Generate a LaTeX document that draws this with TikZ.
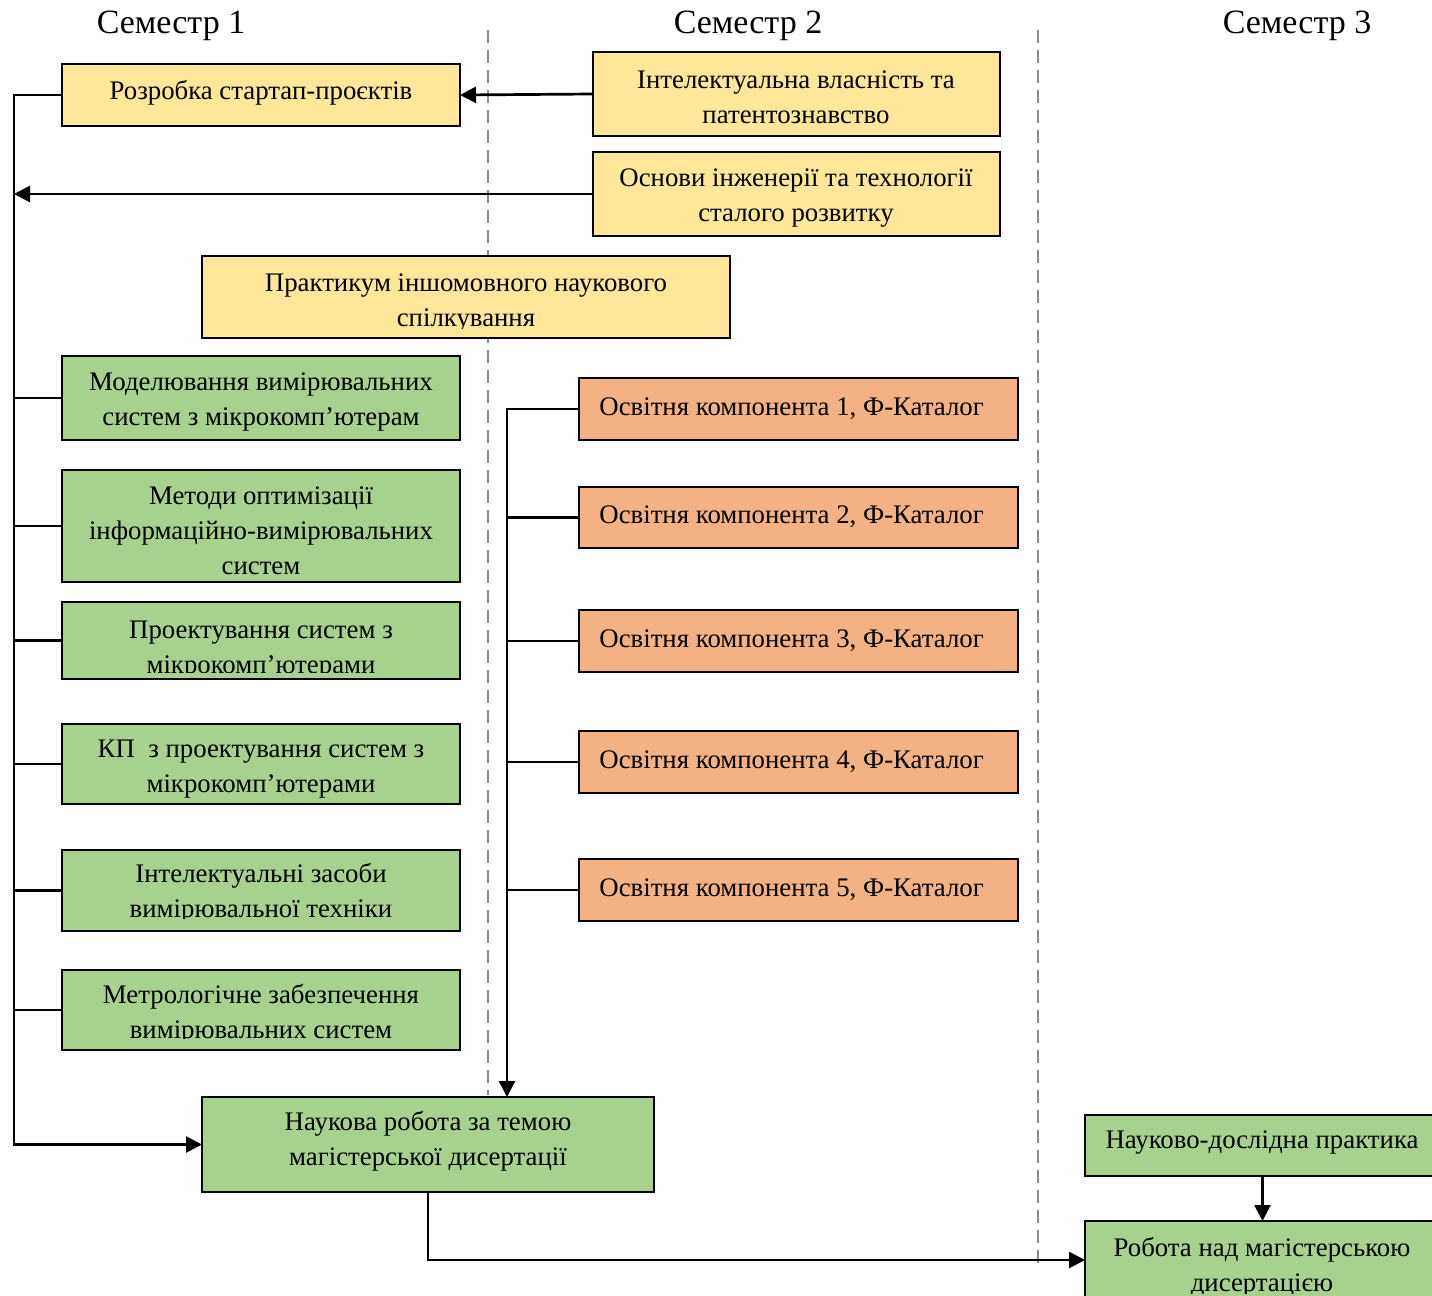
\documentclass[tikz,border=0pt]{standalone}
\usepackage{fontspec}
\setmainfont{Liberation Serif}
\usetikzlibrary{arrows.meta}
\definecolor{ylw}{HTML}{FFE699}
\definecolor{grn}{HTML}{A9D18E}
\definecolor{org}{HTML}{F4B183}
\newcommand\boxfont{\fontsize{13.4}{17.5}\selectfont}
% name, fill, x1, y1, x2, y2, text placement, clip bottom, text
\newcommand\cbox[9]{%
 \node[fill=#2,inner sep=0pt,outer sep=0pt,anchor=north west,minimum width={((#5)-(#3))*0.5pt},minimum height={((#6)-(#4))*0.5pt}] (#1) at (#3,#4) {};
 \begin{scope}\clip (#3,#4) rectangle (#5,#8);
 \node[txt] (#1-t) #7 {#9};
 \end{scope}
 \draw[boxline] (#1.south west) rectangle (#1.north east);}
\begin{document}
\begin{tikzpicture}[x=0.5pt,y=-0.5pt,
  txt/.style={inner sep=0pt,font=\boxfont,align=center,text=black},
  boxline/.style={line width=1pt,draw=black},
  conn/.style={line width=1.35pt,draw=black},
  arr/.style={conn,-{Triangle[length=8pt,width=8pt]}},
  dashline/.style={line width=0.7pt,draw=black!45,dash pattern=on 6.5pt off 3.5pt},
  head/.style={inner sep=0pt,font=\fontsize{17}{20}\selectfont}]
\clip (0,0) rectangle (1432,1296);
\fill[white] (0,0) rectangle (1432,1296);
\node[head] (h1) at (171,26) {Семестр 1};
\node[head] (h2) at (748,26) {Семестр 2};
\node[head] (h3) at (1297,26) {Семестр 3};
\draw[dashline] (488,30) -- (488,1095);
\draw[dashline] (1038,30) -- (1038,1265);
\cbox{rozr}{ylw}{62}{64}{460}{126}{at (261,92.5)}{126}{Розробка стартап-проєктів}
\cbox{intel}{ylw}{593}{52}{1000}{136}{at (796,97.5)}{136}{Інтелектуальна власність та\\патентознавство}
\cbox{osn}{ylw}{593}{152}{1000}{236}{at (796,198)}{236}{Основи інженерії та технології\\сталого розвитку}
\cbox{prak}{ylw}{202}{256}{730}{338}{at (466,303)}{328}{Практикум іншомовного наукового\\спілкування}
\cbox{mod}{grn}{62}{356}{460}{440}{at (261,402)}{440}{Моделювання вимірювальних\\систем з мікрокомп’ютерам}
\cbox{met}{grn}{62}{470}{460}{582}{at (261,531)}{582}{Методи оптимізації\\інформаційно-вимірювальних\\систем}
\cbox{proj}{grn}{62}{602}{460}{679}{at (261,650)}{672}{Проектування систем з\\мікрокомп’ютерами}
\cbox{kp}{grn}{62}{724}{460}{804}{at (261,769)}{804}{КП\ \ з проектування систем з\\мікрокомп’ютерами}
\cbox{izas}{grn}{62}{850}{460}{931}{at (261,893)}{918}{Інтелектуальні засоби\\вимірювальної техніки}
\cbox{metr}{grn}{62}{970}{460}{1050}{at (261,1014)}{1038}{Метрологічне забезпечення\\вимірювальних систем}
\cbox{nauk}{grn}{202}{1097}{654}{1192}{at (428,1141)}{1192}{Наукова робота за темою\\магістерської дисертації}
\cbox{ndp}{grn}{1085}{1115}{1440}{1176}{at (1262,1142.5)}{1176}{Науково-дослідна практика}
\cbox{rob}{grn}{1085}{1221}{1440}{1299}{at (1262,1267)}{1293}{Робота над магістерською\\дисертацією}
\cbox{ok1}{org}{579}{378}{1018}{440}{[anchor=west] at (599,408.5)}{440}{Освітня компонента 1, Ф-Каталог}
\cbox{ok2}{org}{579}{487}{1018}{548}{[anchor=west] at (599,516.5)}{548}{Освітня компонента 2, Ф-Каталог}
\cbox{ok3}{org}{579}{610}{1018}{672}{[anchor=west] at (599,640.5)}{672}{Освітня компонента 3, Ф-Каталог}
\cbox{ok4}{org}{579}{731}{1018}{793}{[anchor=west] at (599,761.5)}{793}{Освітня компонента 4, Ф-Каталог}
\cbox{ok5}{org}{579}{859}{1018}{921}{[anchor=west] at (599,889.5)}{921}{Освітня компонента 5, Ф-Каталог}
\coordinate (lt) at (14,0);
\coordinate (mt) at (507,0);
\draw[arr] (rozr.west) -| (lt |- nauk.west) -- (nauk.west);
\draw[arr] (intel.west) -- (rozr.east);
\draw[arr] (osn.west) -- (lt |- osn.west);
\foreach \n in {mod,met,proj,kp,izas,metr} \draw[conn] (lt |- \n.west) -- (\n.west);
\draw[arr] (ok1.west) -| (mt |- nauk.north);
\foreach \n in {ok2,ok3,ok4,ok5} \draw[conn] (mt |- \n.west) -- (\n.west);
\draw[arr] (nauk.south) |- (rob.west);
\draw[arr] (ndp.south) -- (rob.north);
\end{tikzpicture}
\end{document}
